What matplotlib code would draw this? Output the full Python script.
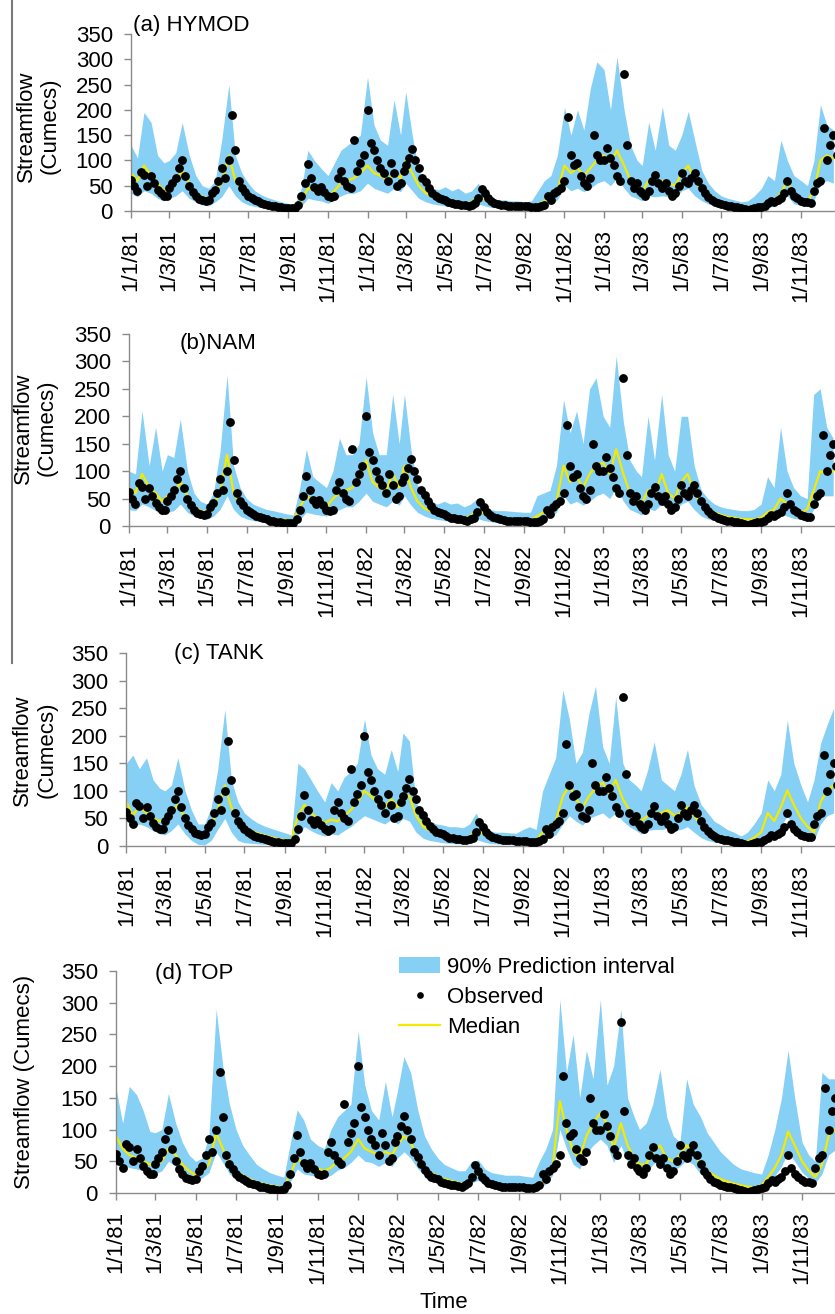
import numpy as np
import matplotlib.pyplot as plt
from matplotlib.lines import Line2D
from matplotlib.patches import Patch

plt.rcParams['font.family'] = ['Liberation Sans', 'DejaVu Sans']

W, H = 835, 1314
BLUE = '#86cff5'
YELLOW = '#f2ea00'
GREY = '#8a8a8a'
FS = 16

years = [1981, 1982, 1983]
obs_days = [1, 6, 11, 16, 21, 26]
mod_days = [1, 11, 21]

# observed streamflow, 5-day samples (6 per month), 1981-1983
observed = [
    62, 50, 40, 78, 72, 50,  70, 55, 42, 35, 30, 30,  45, 55, 65, 85, 100, 70,
    50, 38, 30, 24, 22, 20,  22, 35, 42, 60, 85, 65,  100, 190, 120, 60, 45, 38,
    30, 26, 22, 19, 16, 14,  12, 10, 9, 8, 7, 6,  5, 5, 6, 12, 30, 55,
    92, 65, 48, 40, 48, 38,  30, 28, 30, 65, 80, 60,  50, 45, 140, 80, 95, 110,
    200, 135, 120, 100, 85, 75,  60, 95, 75, 50, 55, 80,  90, 105, 122, 100, 85, 65,
    57, 45, 36, 30, 26, 24,  22, 18, 15, 14, 13, 12,  11, 10, 12, 15, 25, 44,
    35, 25, 20, 16, 14, 12,  11, 10, 10, 10, 9, 9,  9, 9, 8, 8, 8, 9,
    12, 30, 22, 35, 40, 45,  60, 185, 110, 90, 95, 70,  55, 50, 65, 150, 110, 100,
    100, 125, 105, 90, 70, 60,  270, 130, 60, 45, 55, 40,  35, 30, 40, 60, 72, 55,
    45, 55, 40, 30, 35, 50,  75, 60, 55, 65, 75, 60,  45, 35, 28, 22, 18, 15,
    13, 11, 10, 9, 8, 7,  5, 3, 2, 3, 5, 7,  8, 10, 15, 20, 18, 22,
    25, 35, 60, 40, 30, 25,  20, 18, 17, 16, 40, 55,  60, 165, 100, 130, 150, 110,
]

# model results, 10-day samples (3 per month), 1981-1983
upper_hymod = [
    130, 105, 195,  175, 110, 95,  100, 115, 175,  110, 70, 50,  45, 60, 140,  250, 110, 75,
    55, 40, 32,  26, 22, 18,  15, 13, 45,  120, 100, 85,  70, 95, 120,  130, 140, 150,
    265, 170, 140,  130, 220, 150,  236, 150, 80,  55, 45, 42,  48, 40, 45,  35, 40, 55,
    30, 25, 22,  22, 20, 20,  18, 20, 40,  60, 70, 110,  205, 150, 200,  160, 243, 295,
    280, 200, 305,  200, 130, 100,  90, 176, 120,  206, 130, 120,  150, 197, 140,  80, 55, 40,
    30, 25, 22,  18, 20, 30,  45, 70, 60,  140, 100, 70,  60, 50, 100,  210, 170, 160,
]
median_hymod = [
    75, 60, 90,  70, 55, 40,  50, 60, 80,  55, 35, 28,  25, 40, 55,  110, 60, 40,
    28, 22, 17,  13, 10, 8,  7, 6, 20,  45, 40, 38,  30, 40, 55,  60, 65, 75,
    90, 75, 70,  60, 75, 65,  100, 75, 50,  35, 28, 25,  22, 18, 16,  14, 18, 30,
    22, 16, 13,  11, 10, 9,  9, 9, 12,  20, 28, 40,  90, 75, 85,  70, 85, 100,
    110, 95, 120,  90, 60, 50,  40, 60, 55,  60, 55, 50,  75, 90, 60,  40, 30, 24,
    18, 14, 12,  10, 8, 8,  10, 15, 22,  35, 60, 30,  25, 20, 40,  100, 110, 105,
]
lower_hymod = [
    35, 28, 40,  35, 25, 20,  25, 30, 40,  25, 18, 12,  10, 18, 28,  50, 30, 18,
    12, 9, 7,  5, 4, 3,  3, 3, 10,  25, 22, 20,  15, 22, 30,  35, 35, 40,
    55, 45, 40,  35, 45, 38,  55, 40, 25,  18, 14, 12,  10, 8, 7,  6, 8, 14,
    10, 7, 6,  5, 4, 4,  4, 4, 6,  10, 14, 22,  50, 40, 45,  38, 45, 55,
    60, 50, 65,  45, 30, 25,  20, 30, 28,  30, 28, 25,  40, 45, 30,  20, 14, 10,
    8, 6, 5,  4, 3, 3,  4, 7, 10,  18, 30, 14,  12, 10, 20,  55, 60, 55,
]

upper_nam = [
    100, 95, 210,  110, 180, 100,  130, 125, 195,  100, 60, 45,  40, 60, 135,  275, 110, 70,
    50, 40, 35,  30, 28, 25,  22, 20, 70,  140, 90, 80,  70, 100, 160,  130, 130, 150,
    272, 170, 130,  130, 240, 150,  240, 140, 75,  55, 45, 40,  45, 40, 42,  35, 40, 50,
    35, 30, 28,  28, 27, 26,  25, 25, 55,  60, 65, 110,  230, 170, 210,  150, 250, 270,
    200, 180, 310,  190, 120, 100,  90, 200, 120,  240, 130, 100,  200, 200, 110,  65, 50, 40,
    35, 32, 30,  28, 28, 30,  40, 90, 70,  180, 100, 70,  55, 50, 240,  250, 180, 160,
]
median_nam = [
    70, 60, 95,  70, 60, 45,  55, 60, 80,  55, 35, 28,  25, 40, 60,  130, 60, 38,
    27, 22, 18,  15, 13, 12,  11, 10, 35,  55, 45, 40,  35, 50, 60,  65, 70, 85,
    120, 80, 70,  65, 95, 70,  110, 70, 45,  32, 27, 24,  21, 18, 17,  15, 18, 30,
    23, 18, 16,  14, 13, 12,  12, 11, 18,  25, 30, 45,  110, 80, 90,  70, 95, 110,
    115, 95, 140,  95, 60, 50,  40, 65, 55,  95, 60, 50,  80, 95, 60,  40, 30, 25,
    20, 17, 15,  13, 12, 12,  15, 25, 30,  50, 40, 30,  25, 30, 65,  100, 95, 100,
]
lower_nam = [
    30, 28, 40,  35, 28, 20,  25, 28, 40,  25, 18, 14,  12, 18, 30,  55, 30, 18,
    13, 10, 8,  6, 5, 4,  3, 3, 12,  25, 22, 20,  18, 25, 30,  35, 35, 45,
    60, 45, 40,  35, 45, 38,  55, 38, 25,  18, 14, 12,  10, 8, 7,  6, 8, 14,
    10, 8, 6,  5, 5, 4,  4, 4, 7,  10, 15, 25,  55, 40, 45,  38, 45, 55,
    60, 50, 70,  45, 30, 25,  20, 32, 28,  40, 30, 25,  40, 45, 30,  18, 13, 10,
    8, 6, 5,  4, 4, 4,  6, 10, 12,  22, 18, 14,  12, 12, 30,  55, 55, 55,
]

upper_tank = [
    150, 165, 140,  160, 120, 105,  100, 110, 160,  100, 65, 40,  40, 70, 138,  248, 120, 80,
    60, 50, 42,  36, 32, 28,  24, 20, 150,  140, 120, 100,  80, 115, 100,  125, 135, 150,
    230, 165, 140,  130, 175, 135,  205, 190, 80,  50, 45, 40,  38, 35, 35,  33, 40, 60,
    35, 28, 25,  25, 24, 23,  30, 35, 30,  100, 130, 160,  283, 230, 150,  170, 240, 290,
    180, 150, 270,  150, 120, 110,  100, 138, 189,  120, 110, 100,  130, 175, 110,  75, 60, 45,
    38, 30, 25,  18, 25, 40,  60, 120, 100,  130, 228, 150,  110, 80, 120,  186, 220, 250,
]
median_tank = [
    80, 55, 72,  60, 50, 45,  48, 60, 75,  50, 30, 20,  20, 35, 65,  110, 70, 45,
    35, 28, 23,  19, 16, 13,  11, 10, 55,  75, 60, 50,  42, 48, 45,  55, 65, 80,
    100, 90, 80,  70, 85, 70,  95, 90, 55,  35, 28, 24,  20, 17, 15,  14, 16, 30,
    22, 16, 13,  11, 10, 9,  9, 9, 10,  25, 35, 45,  90, 110, 85,  70, 90, 105,
    115, 95, 120,  85, 65, 55,  45, 55, 60,  60, 65, 55,  60, 70, 55,  38, 28, 22,
    17, 14, 11,  8, 8, 15,  25, 60, 45,  70, 101, 75,  50, 35, 25,  80, 100, 110,
]
lower_tank = [
    45, 35, 40,  35, 28, 22,  20, 28, 40,  22, 10, 3,  2, 10, 30,  50, 25, 10,
    6, 5, 4,  3, 3, 2,  2, 2, 20,  35, 28, 22,  18, 22, 20,  28, 35, 45,
    55, 50, 45,  40, 48, 40,  50, 45, 25,  14, 10, 8,  6, 5, 4,  4, 5, 12,
    8, 5, 4,  3, 3, 2,  2, 2, 3,  10, 15, 20,  40, 55, 45,  38, 50, 55,
    60, 50, 60,  45, 35, 28,  22, 28, 30,  30, 32, 28,  30, 35, 25,  15, 10, 7,
    5, 4, 3,  2, 2, 5,  10, 25, 20,  35, 55, 35,  22, 15, 10,  40, 55, 60,
]

upper_top = [
    165, 110, 168,  155, 130, 97,  95, 100, 157,  110, 80, 60,  50, 55, 90,  290, 200, 140,
    100, 75, 60,  45, 38, 32,  28, 25, 80,  131, 115, 85,  75, 70, 100,  120, 130, 140,
    255, 170, 130,  115, 176, 120,  160, 215, 190,  130, 90, 70,  55, 45, 40,  35, 35, 50,
    52, 38, 32,  30, 28, 28,  28, 26, 25,  50, 70, 100,  305, 190, 250,  150, 225, 180,
    305, 170, 200,  290, 150, 120,  100, 110, 140,  195, 120, 90,  80, 180, 140,  120, 95, 80,
    65, 55, 45,  38, 35, 32,  30, 60, 100,  150, 225, 150,  80, 60, 50,  190, 180, 180,
]
median_top = [
    90, 70, 60,  55, 50, 45,  45, 50, 70,  60, 45, 35,  28, 35, 45,  95, 70, 45,
    35, 28, 22,  17, 14, 12,  10, 9, 30,  55, 45, 40,  38, 35, 40,  50, 55, 65,
    85, 70, 65,  60, 65, 60,  75, 90, 80,  55, 40, 32,  26, 22, 19,  16, 15, 25,
    30, 20, 16,  14, 12, 11,  10, 9, 10,  12, 20, 40,  145, 100, 65,  55, 90, 110,
    126, 110, 70,  110, 75, 55,  45, 45, 65,  75, 55, 50,  60, 75, 65,  45, 35, 28,
    22, 18, 15,  12, 10, 9,  12, 25, 40,  60, 97, 75,  50, 35, 25,  45, 90, 100,
]
lower_top = [
    60, 45, 40,  38, 35, 30,  30, 35, 50,  42, 30, 22,  18, 24, 32,  65, 48, 30,
    22, 18, 14,  10, 8, 7,  6, 5, 18,  38, 30, 28,  26, 24, 28,  36, 40, 48,
    60, 50, 48,  42, 48, 42,  55, 65, 55,  38, 28, 22,  17, 14, 12,  10, 10, 16,
    20, 13, 10,  8, 7, 6,  6, 5, 6,  8, 14, 28,  100, 70, 45,  38, 62, 75,
    85, 75, 48,  75, 50, 38,  30, 30, 45,  52, 38, 35,  42, 52, 45,  30, 23, 18,
    14, 11, 9,  7, 6, 5,  7, 16, 27,  42, 65, 50,  33, 23, 16,  30, 60, 68,
]

obs_dates = np.array([np.datetime64(f"{y}-{m:02d}-{d:02d}")
                      for y in years for m in range(1, 13) for d in obs_days])
mod_dates = np.array([np.datetime64(f"{y}-{m:02d}-{d:02d}")
                      for y in years for m in range(1, 13) for d in mod_days])
tick_dates = np.array([np.datetime64(f"{y}-{m:02d}-01")
                       for y in years for m in range(1, 13, 2)])
tick_labels = [f"1/{m}/{y % 100}" for y in years for m in range(1, 13, 2)]


def fx(x):
    return x / W


def fy(y):
    return 1 - y / H


fig = plt.figure(figsize=(W / 100, H / 100), dpi=100)

# (title, upper, median, lower, axis px: left, width, y0, y350, title pos, ylabel, ylabel pos)
panels = [
    ("(a) HYMOD", upper_hymod, median_hymod, lower_hymod,
     131, 709.5, 211, 34, (133, 25), "Streamflow\n(Cumecs)", (38.5, 126)),
    ("(b)NAM", upper_nam, median_nam, lower_nam,
     129, 711.3, 526, 334, (180, 343), "Streamflow\n(Cumecs)", (35.5, 428)),
    ("(c) TANK", upper_tank, median_tank, lower_tank,
     126.3, 714.5, 846, 653, (174, 654), "Streamflow\n(Cumecs)", (35, 750)),
    ("(d) TOP", upper_top, median_top, lower_top,
     116, 726.5, 1193, 971, (155, 973), "Streamflow (Cumecs)", (25, 1082)),
]

for title, up, med, lo, left, width, y0, y350, tpos, ylab, ypos in panels:
    ax = fig.add_axes([fx(left), fy(y0), fx(width), (y0 - y350) / H])
    ax.fill_between(mod_dates, lo, up, color=BLUE, lw=0, zorder=1)
    ax.plot(mod_dates, med, color=YELLOW, lw=1.6, zorder=2)
    ax.plot(obs_dates, observed, 'o', color='black', ms=5.3, zorder=3)
    ax.set_xlim(np.datetime64("1981-01-01"), np.datetime64("1984-01-01"))
    ax.set_ylim(0, 350)
    ax.set_yticks(np.arange(0, 351, 50))
    ax.set_xticks(tick_dates)
    ax.set_xticklabels(tick_labels, rotation=90)
    ax.tick_params(axis='both', labelsize=FS, color=GREY, length=5, width=1)
    ax.tick_params(axis='x', pad=8)
    ax.tick_params(axis='y', pad=8)
    for s in ('top', 'right'):
        ax.spines[s].set_visible(False)
    for s in ('left', 'bottom'):
        ax.spines[s].set_color(GREY)
        ax.spines[s].set_linewidth(1)
    ax.set_facecolor('none')
    fig.text(fx(tpos[0]), fy(tpos[1]), title, fontsize=FS, ha='left', va='center')
    fig.text(fx(ypos[0]), fy(ypos[1]), ylab, fontsize=FS, rotation=90,
             ha='center', va='center', multialignment='center', linespacing=1.2)

fig.text(fx(444), fy(1303), "Time", fontsize=FS, ha='center', va='center')

handles = [Patch(facecolor=BLUE, edgecolor='none'),
           Line2D([], [], marker='o', ls='', color='black', ms=3.8),
           Line2D([], [], color=YELLOW, lw=1.6)]
fig.legend(handles, ["90% Prediction interval", "Observed", "Median"],
           loc='upper left', bbox_to_anchor=(fx(399), fy(957)), frameon=False,
           fontsize=FS, handlelength=1.85, handletextpad=0.3, labelspacing=0.4,
           borderpad=0, borderaxespad=0)

# grey border line on the left
fig.add_artist(Line2D([fx(12), fx(12)], [1, fy(663)], color='#7a7a7a', lw=1.5))

fig.savefig("out.png", dpi=100)
